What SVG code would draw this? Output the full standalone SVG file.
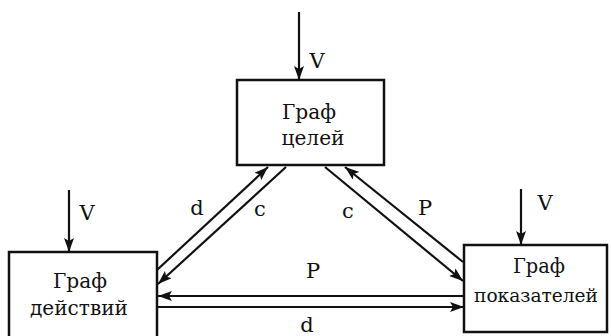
<svg xmlns="http://www.w3.org/2000/svg" width="611" height="336" viewBox="0 0 611 336">
<style>
.box{fill:#fff;stroke:#111;stroke-width:2.5}
text{font-family:'DejaVu Serif','Liberation Serif',serif;fill:#111;text-anchor:middle}
.t{font-size:21px}
.l{font-size:21px}
.c{stroke:#111;stroke-width:2.2;fill:none;marker-end:url(#ah)}
</style>
<defs>
<marker id="ah" viewBox="0 0 14 10" refX="14" refY="5" markerWidth="14" markerHeight="10" markerUnits="userSpaceOnUse" orient="auto">
<path d="M0,0 L14,5 L0,10 L3,5 Z" fill="#111"/>
</marker>
</defs>
<rect width="611" height="336" fill="#fff"/>
<g id="goals">
<rect class="box" x="237" y="80" width="147" height="85"/>
<text class="t" x="309" y="119" textLength="54" lengthAdjust="spacingAndGlyphs">Граф</text>
<text class="t" x="313" y="145" textLength="63" lengthAdjust="spacingAndGlyphs">целей</text>
</g>
<g id="actions">
<rect class="box" x="9" y="252" width="148" height="95"/>
<text class="t" x="80" y="288" textLength="54" lengthAdjust="spacingAndGlyphs">Граф</text>
<text class="t" x="79" y="315" textLength="98" lengthAdjust="spacingAndGlyphs">действий</text>
</g>
<g id="indicators">
<rect class="box" x="464" y="245" width="143" height="87"/>
<text class="t" x="539" y="273" textLength="52" lengthAdjust="spacingAndGlyphs">Граф</text>
<text x="536" y="302" font-size="19" textLength="124" lengthAdjust="spacingAndGlyphs">показателей</text>
</g>
<g id="connectors">
<line class="c" x1="299" y1="12" x2="299" y2="80"/>
<line class="c" x1="69" y1="190" x2="69" y2="252"/>
<line class="c" x1="521" y1="189" x2="521" y2="245"/>
<line class="c" x1="157" y1="270" x2="268" y2="167"/>
<line class="c" x1="286" y1="167" x2="158" y2="284"/>
<line class="c" x1="325" y1="167" x2="463" y2="281"/>
<line class="c" x1="463" y1="262" x2="345" y2="167"/>
<line class="c" x1="464" y1="296" x2="158" y2="296"/>
<line class="c" x1="158" y1="307" x2="464" y2="307"/>
</g>
<g id="labels">
<text class="l" x="317" y="68">V</text>
<text class="l" x="87" y="220">V</text>
<text class="l" x="545" y="210">V</text>
<text class="l" x="197" y="215">d</text>
<text class="l" x="260" y="216">c</text>
<text class="l" x="348" y="218">c</text>
<text class="l" x="425" y="215">P</text>
<text class="l" x="313" y="278">P</text>
<text class="l" x="307" y="332">d</text>
</g>
</svg>
